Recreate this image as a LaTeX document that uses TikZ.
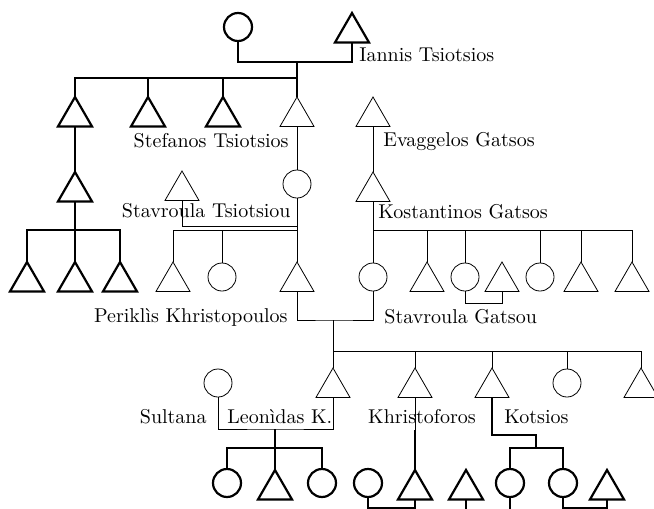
\documentclass[tikz,border=0pt]{standalone}
\usetikzlibrary{shapes.geometric,positioning}
\tikzset{
	line width=0.45pt,
	male/.style ={regular polygon, regular polygon sides=3, draw, minimum size=19.6pt, inner sep=0pt, outer sep=0pt, anchor=north},
	female/.style ={circle, draw, minimum size=14pt, inner sep=0pt, outer sep=0pt},
	heavy/.style ={line width=1.1pt},
	lbl/.style = {inner sep=1pt}
}
\begin{document}
\begin{tikzpicture}[x=0.5pt,y=-0.5pt]
    \useasboundingbox (0,0) rectangle (654,509);

    \node[female,heavy] (c0) at (238,27) {};
    \node[male,heavy] (t0) at (352,13) {};
    \node[lbl,anchor=west] (l0) at (357,55) {Iannis Tsiotsios};
    \coordinate (m0) at (297,62);
    \coordinate (s0) at (297,78);
    \draw[heavy] (c0.south) |- (m0) -| (t0.south);
    \draw[heavy] (m0) -- (s0);

    \node[male,heavy] (a1) at (75,97) {};
    \node[male,heavy] (a2) at (148,97) {};
    \node[male,heavy] (a3) at (223,97) {};
    \node[male] (a4) at (297,97) {};
    \node[lbl,anchor=east] (l1) at (291,141) {Stefanos Tsiotsios};
    \foreach \n in {a1,a2,a3,a4} \draw[heavy] (s0) -| (\n.north);
    \node[male] (e1) at (373,97) {};
    \node[lbl,anchor=west] (l2) at (381,142) {Evaggelos Gatsos};

    \node[male,heavy] (b1) at (75,172) {};
    \node[female] (b2) at (297,184) {};
    \node[male] (b3) at (182,171) {};
    \node[lbl,anchor=east] (l3) at (293,211) {Stavroula Tsiotsiou};
    \node[male] (b4) at (373,172) {};
    \node[lbl,anchor=west] (l4) at (376,212) {Kostantinos Gatsos};
    \draw[heavy] (a1.south) -- (b1.north);
    \draw (a4.south) -- (b2.north);
    \draw (e1.south) -- (b4.north);

    \coordinate (s1) at (75,230);
    \node[male,heavy] (d1) at (27,262) {};
    \node[male,heavy] (d2) at (75,262) {};
    \node[male,heavy] (d3) at (120,262) {};
    \draw[heavy] (b1.south) -- (s1);
    \foreach \n in {d1,d2,d3} \draw[heavy] (s1) -| (\n.north);

    \coordinate (m2) at (297,226);
    \coordinate (s2) at (297,230);
    \node[male] (d4) at (173,262) {};
    \node[female] (d5) at (222,277) {};
    \node[male] (d6) at (297,262) {};
    \draw (b3.south) |- (m2);
    \draw (b2.south) -- (d6.north);
    \foreach \n in {d4,d5} \draw (s2) -| (\n.north);

    \coordinate (s3) at (373,230);
    \node[female] (g1) at (373,277) {};
    \node[male] (g2) at (427,262) {};
    \node[female] (g3) at (465,277) {};
    \node[male] (g4) at (502,262) {};
    \node[female] (g5) at (540,277) {};
    \node[male] (g6) at (581,262) {};
    \node[male] (g7) at (632,262) {};
    \draw (b4.south) -- (g1.north);
    \foreach \n in {g2,g3,g5,g6,g7} \draw (s3) -| (\n.north);
    \draw (g3.south) -- ++(0,12) -| (g4.south);

    \node[lbl,anchor=east] (l5) at (290,317) {Periklìs Khristopoulos};
    \node[lbl,anchor=west] (l6) at (382,317) {Stavroula Gatsou};
    \coordinate (m3) at (333,320);
    \coordinate (s4) at (333,351);
    \draw (d6.south) |- (m3) -| (g1.south);
    \draw (m3) -- (s4);

    \node[male] (h1) at (333,368) {};
    \node[male] (h2) at (415,368) {};
    \node[male] (h3) at (492,368) {};
    \node[female] (h4) at (567,383) {};
    \node[male] (h5) at (641,368) {};
    \foreach \n in {h1,h2,h3,h4,h5} \draw (s4) -| (\n.north);
    \node[female] (k1) at (218,383) {};
    \node[lbl,anchor=east] (l7) at (209,417) {Sultana};
    \node[lbl,anchor=west] (l8) at (225,417) {Leonìdas K.};
    \node[lbl] (l9) at (422,417) {Khristoforos};
    \node[lbl,anchor=west] (l10) at (502,417) {Kotsios};
    \coordinate (m4) at (275,429);
    \coordinate (s5) at (275,448);
    \draw (k1.south) |- (m4) -| (h1.south);
    \draw[heavy] (m4) -- (s5);

    \node[female,heavy] (n1) at (227,483) {};
    \node[male,heavy] (n2) at (275,470) {};
    \node[female,heavy] (n3) at (322,483) {};
    \foreach \n in {n1,n2,n3} \draw[heavy] (s5) -| (\n.north);
    \node[female,heavy] (n4) at (368,483) {};
    \node[male,heavy] (n5) at (415,470) {};
    \coordinate (q1) at (415,430);
    \draw (h2.south) -- (q1);
    \draw[heavy] (q1) -- (n5.north);
    \draw[heavy] (n4.south) -- ++(0,11) -| (n5.south);
    \node[male,heavy] (n6) at (466,470) {};
    \draw[heavy] (n6.south) -- ++(0,14);
    \coordinate (m5) at (536,435);
    \coordinate (s6) at (536,448);
    \node[female,heavy] (n7) at (510,483) {};
    \node[female,heavy] (n8) at (563,483) {};
    \node[male,heavy] (n9) at (607,470) {};
    \draw[heavy] (h3.south) |- (m5) -- (s6);
    \foreach \n in {n7,n8} \draw[heavy] (s6) -| (\n.north);
    \draw[heavy] (n7.south) -- ++(0,14);
    \draw[heavy] (n8.south) -- ++(0,11) -| (n9.south);

\end{tikzpicture}
\end{document}
